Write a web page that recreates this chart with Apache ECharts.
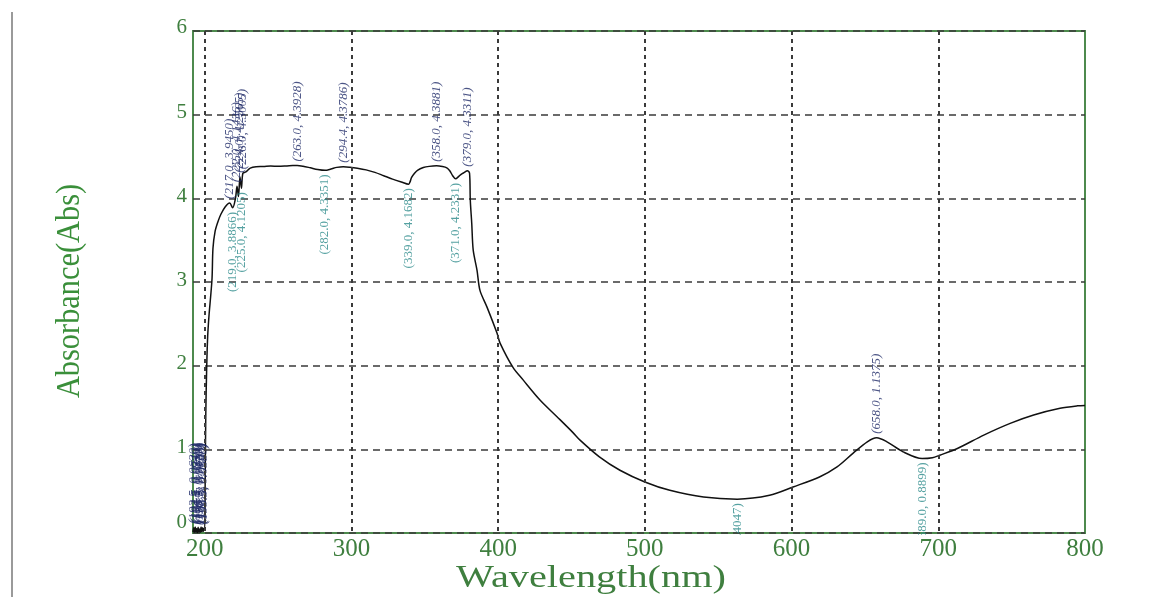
<!DOCTYPE html>
<html>
<head>
<meta charset="utf-8">
<title>Absorbance spectrum</title>
<script src="https://cdn.jsdelivr.net/npm/echarts@6/dist/echarts.min.js"></script>
<style>
  html, body { margin: 0; padding: 0; background: #ffffff; }
  #chart { width: 1157px; height: 597px; }
</style>
</head>
<body>
<div id="chart"></div>
<script>
// Spectrum: wavelength (nm) and absorbance (Abs)
const wavelengths = [
  192.0, 192.5, 193.0, 193.5, 194.0, 194.5, 195.0, 195.5, 196.0, 196.5, 197.0, 197.5, 198.0, 198.5, 199.0, 199.5,
  200.0, 200.3, 200.7, 201.3, 202.0, 203.0, 204.0, 205.0, 205.6, 207.0, 209.0, 211.0, 214.0,
  217.0, 219.0, 221.0, 222.0, 223.0, 224.0, 225.0, 226.0, 228.0, 231.0, 235.0,
  240.0, 245.0, 250.0, 255.0, 260.0, 263.0, 267.0, 272.0, 277.0, 282.0, 286.0, 290.0, 294.4, 299.0,
  304.0, 310.0, 316.0, 322.0, 328.0, 334.0, 339.0, 340.0, 341.0, 343.0, 345.0, 349.0, 353.0, 358.0,
  362.0, 365.0, 367.0, 369.0, 371.0, 373.0, 375.0, 377.0, 379.0, 380.5, 381.0, 382.0, 383.0,
  385.6, 387.6, 392.4, 399.2, 401.3, 410.1, 417.0, 428.5, 440.1, 451.0, 455.8, 469.0, 483.0,
  500.0, 517.0, 540.0, 563.0, 585.0, 601.0, 619.0, 631.0, 642.0, 651.6, 658.0, 665.0, 676.0,
  689.0, 696.0, 701.0, 713.0, 731.0, 749.0, 765.0, 783.0, 795.0, 800.0
];
const absorbance = [
  0.010, 0.062, 0.008, 0.071, 0.012, 0.055, 0.006, 0.068, 0.011, 0.047, 0.009, 0.073, 0.015, 0.064, 0.020, 0.058,
  0.050, 0.600, 1.400, 1.950, 2.350, 2.620, 2.820, 3.050, 3.400, 3.600, 3.720, 3.810, 3.900,
  3.9450, 3.8866, 4.0050, 4.1436, 4.0210, 4.2565, 4.1205, 4.3005, 4.3150, 4.3620, 4.3780,
  4.3800, 4.3860, 4.3830, 4.3860, 4.3910, 4.3928, 4.3840, 4.3650, 4.3450, 4.3351, 4.3500, 4.3700, 4.3786, 4.3720,
  4.3600, 4.3400, 4.3100, 4.2700, 4.2300, 4.1950, 4.1682, 4.2000, 4.2500, 4.3000, 4.3350, 4.3680, 4.3820, 4.3881,
  4.3800, 4.3650, 4.3300, 4.2700, 4.2331, 4.2600, 4.2900, 4.3100, 4.3311, 4.3000, 3.9800, 3.7000, 3.3800,
  3.140, 2.900, 2.700, 2.390, 2.270, 1.980, 1.830, 1.590, 1.390, 1.200, 1.110, 0.910, 0.750,
  0.610, 0.510, 0.430, 0.4047, 0.450, 0.550, 0.670, 0.790, 0.955, 1.090, 1.1375, 1.090, 0.970,
  0.8899, 0.900, 0.930, 1.010, 1.170, 1.310, 1.410, 1.490, 1.520, 1.525
];

// Wavelengths of the labelled maxima and minima
const peakWavelengths = [192.5, 193.5, 194.5, 195.5, 196.5, 197.5, 198.5, 199.5,
  217.0, 222.0, 224.0, 226.0, 263.0, 294.4, 358.0, 379.0, 658.0];
const valleyWavelengths = [219.0, 225.0, 282.0, 339.0, 371.0, 563.0, 689.0];

// Axis ticks
const xTicks = [200, 300, 400, 500, 600, 700, 800];
const yTicks = [0, 1, 2, 3, 4, 5, 6];

const spectrum = wavelengths.map((w, i) => [w, absorbance[i]]);
const pick = list => list.map(w => spectrum[wavelengths.indexOf(w)]);
const fmt = p => '(' + p.value[0].toFixed(1) + ', ' + p.value[1].toFixed(4) + ')';

const green = '#3f7f3f';
const chart = echarts.init(document.getElementById('chart'), null, { renderer: 'canvas' });

chart.setOption({
  backgroundColor: '#ffffff',
  animation: false,
  grid: {
    left: 193, right: 72, top: 31, bottom: 64,
    show: true, borderColor: '#4d8a4d', borderWidth: 2, backgroundColor: 'transparent'
  },
  xAxis: {
    type: 'value', min: 192, max: 800, z: 10,
    axisLine: { show: false },
    axisTick: { show: false, customValues: xTicks.slice(0, 6) },
    axisLabel: {
      customValues: xTicks, margin: 4,
      color: green, fontFamily: 'Liberation Serif', fontSize: 25
    },
    splitLine: { show: true, lineStyle: { color: '#3a3a3a', width: 2, type: [4, 4] } }
  },
  yAxis: {
    type: 'value', min: yTicks[0], max: yTicks[yTicks.length - 1], interval: 1,
    axisLine: { show: false },
    axisTick: { show: false },
    axisLabel: {
      margin: 6, color: green, fontFamily: 'Liberation Serif', fontSize: 21,
      formatter: v => v === 0 ? '{z|0}' : (v === 6 ? '{t|6}' : '{n|' + v + '}'),
      rich: {
        z: { color: green, fontFamily: 'Liberation Serif', fontSize: 21, padding: [0, 0, 22, 0] },
        t: { color: green, fontFamily: 'Liberation Serif', fontSize: 21, padding: [0, 0, 8, 0] },
        n: { color: green, fontFamily: 'Liberation Serif', fontSize: 21, padding: [0, 0, 4, 0] }
      }
    },
    splitLine: {
      show: true,
      interval: (i, v) => v > 0 && v < 6,
      lineStyle: { color: '#3a3a3a', width: 1.5, type: [7, 5] }
    }
  },
  graphic: [
    // mask below the plot so that value labels stop at the axis
    { type: 'rect', z: 5, silent: true, shape: { x: 193, y: 535, width: 894, height: 62 },
      style: { fill: '#ffffff' } },
    { type: 'line', z: 6, shape: { x1: 12, y1: 12, x2: 12, y2: 597 },
      style: { stroke: '#9a9a9a', lineWidth: 2 } },
    { type: 'text', z: 6, x: 591, y: 579, scaleX: 1.3,
      style: { text: 'Wavelength(nm)', fill: green, font: '31px "Liberation Serif"',
               align: 'center', verticalAlign: 'middle' } },
    { type: 'text', z: 6, x: 70, y: 291, rotation: Math.PI / 2, scaleX: 0.92,
      style: { text: 'Absorbance(Abs)', fill: '#3a8f3a', font: '33px "Liberation Serif"',
               align: 'center', verticalAlign: 'middle' } }
  ],
  series: [
    {
      name: 'Absorbance', type: 'line', data: spectrum,
      showSymbol: false, smooth: 0.3, clip: true, z: 3,
      lineStyle: { color: '#111111', width: 1.5 }
    },
    {
      name: 'Peaks', type: 'scatter', data: pick(peakWavelengths), symbolSize: 0, z: 4,
      label: {
        show: true, position: 'top', distance: 4, rotate: 90,
        align: 'left', verticalAlign: 'middle',
        formatter: fmt, color: '#1f2a68', fontFamily: 'Liberation Serif',
        fontStyle: 'italic', fontSize: 13
      }
    },
    {
      name: 'Valleys', type: 'scatter', data: pick(valleyWavelengths), symbolSize: 0, z: 4,
      label: {
        show: true, position: 'bottom', distance: 4, rotate: 90,
        align: 'right', verticalAlign: 'middle',
        formatter: fmt, color: '#2a8a8a', fontFamily: 'Liberation Serif', fontSize: 13
      }
    }
  ]
});
</script>
</body>
</html>
